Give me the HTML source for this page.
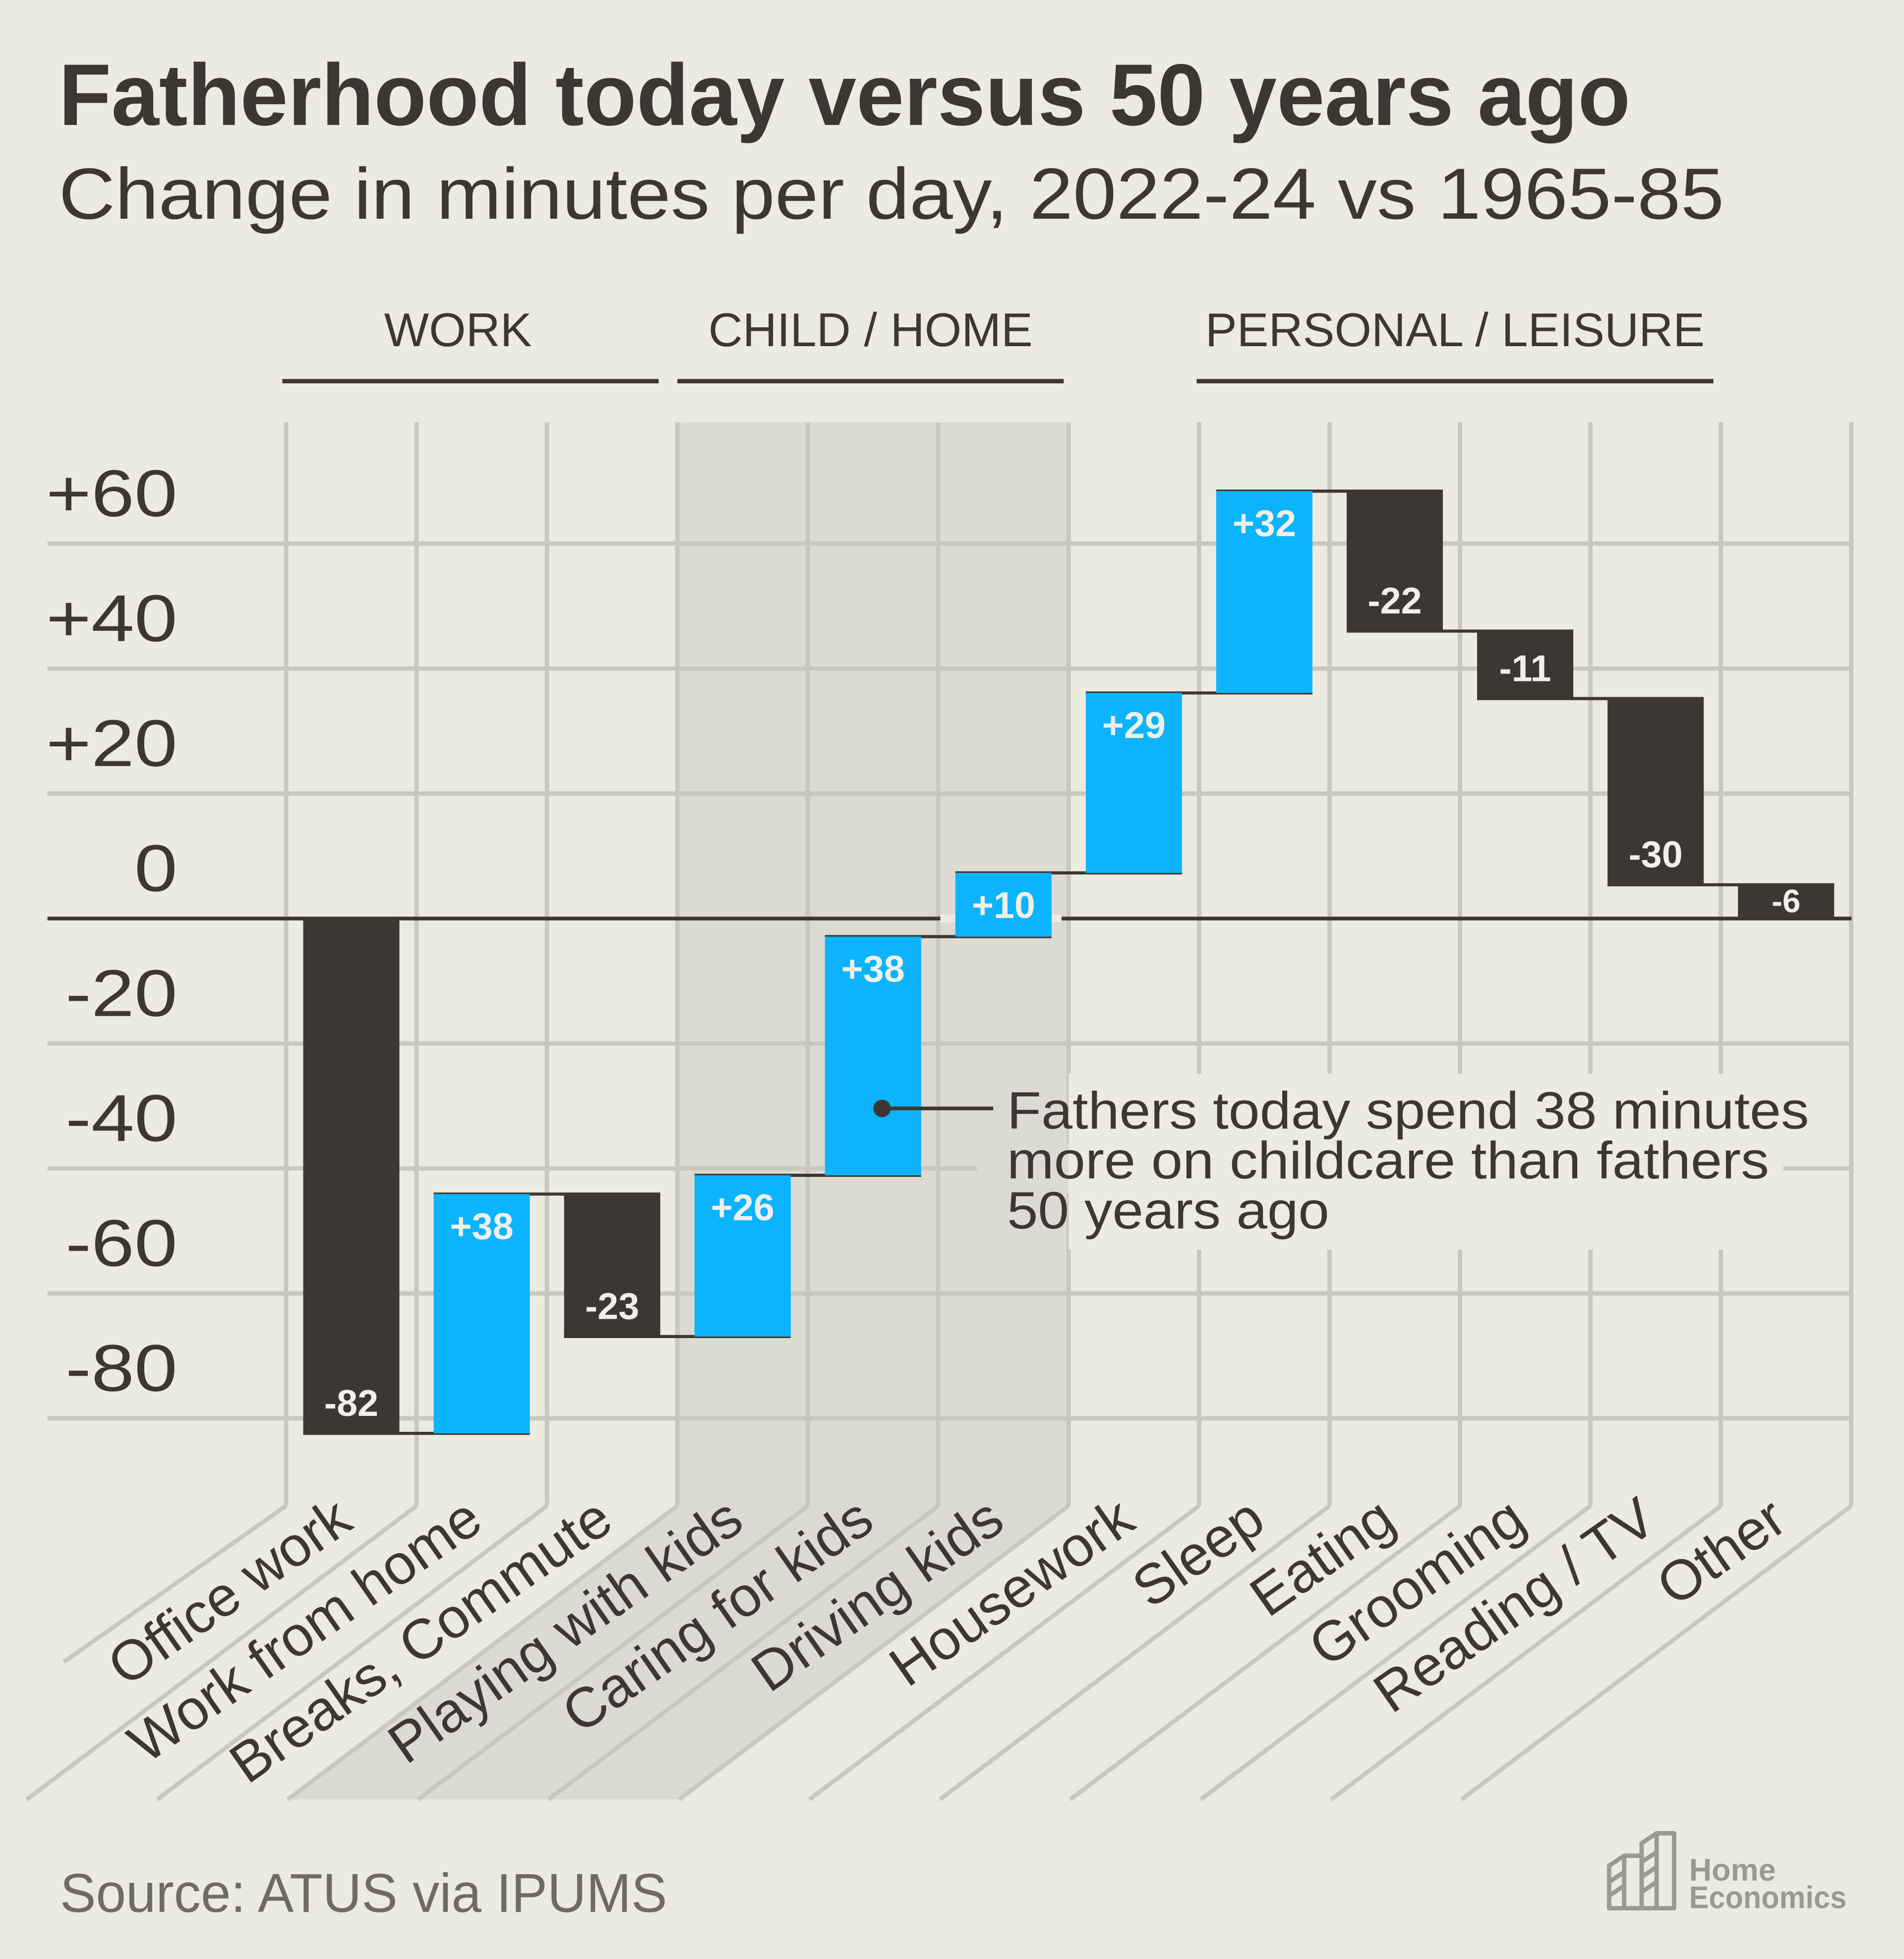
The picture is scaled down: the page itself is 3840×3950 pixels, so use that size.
<!DOCTYPE html>
<html><head><meta charset="utf-8"><style>
html,body{margin:0;padding:0;background:#ecebe0;}
svg{display:block;}
text{font-family:"Liberation Sans",sans-serif;}
</style></head><body>
<svg id="chart" width="3840" height="3950" viewBox="0 0 1524 1567.6" xmlns="http://www.w3.org/2000/svg">
<rect x="0" y="0" width="1524" height="1568" fill="#ecebe0"/>
<text x="47" y="100" font-size="70" font-weight="bold" fill="#3d3733" textLength="1258" lengthAdjust="spacingAndGlyphs">Fatherhood today versus 50 years ago</text>
<text x="47" y="175" font-size="58" fill="#3d3733" textLength="1333" lengthAdjust="spacingAndGlyphs">Change in minutes per day, 2022-24 vs 1965-85</text>
<g id="sections"></g>
<g id="shade"></g>
<g id="grid"></g>
<g id="annbg"></g>
<g id="ylabels"></g>
<g id="bars"></g>
<g id="xlabels"></g>
<g>
<circle cx="706" cy="887" r="7" fill="#3d3733"/>
<line x1="706" y1="887" x2="795" y2="887" stroke="#3d3733" stroke-width="3"/>
<text font-size="42" fill="#3d3733">
<tspan x="806" y="903" textLength="642" lengthAdjust="spacingAndGlyphs">Fathers today spend 38 minutes</tspan>
<tspan x="806" y="943" textLength="610" lengthAdjust="spacingAndGlyphs">more on childcare than fathers</tspan>
<tspan x="806" y="983" textLength="258" lengthAdjust="spacingAndGlyphs">50 years ago</tspan>
</text>
</g>
<text x="48" y="1530" font-size="44" fill="#6e6b66" textLength="486" lengthAdjust="spacingAndGlyphs">Source: ATUS via IPUMS</text>
<g fill="none" stroke="#9a9992" stroke-width="3.5" stroke-linejoin="round">
<path d="M1288,1527 L1288,1493 L1300,1485 L1314,1485 L1314,1475 L1326,1467 L1340,1467 L1340,1527 Z"/>
<line x1="1300" y1="1485" x2="1300" y2="1527"/><line x1="1314" y1="1485" x2="1314" y2="1527"/><line x1="1326" y1="1467" x2="1326" y2="1527"/>
<line x1="1288" y1="1506" x2="1300" y2="1498"/><line x1="1288" y1="1517" x2="1300" y2="1509"/>
<line x1="1314" y1="1490" x2="1326" y2="1482"/><line x1="1314" y1="1502" x2="1326" y2="1494"/><line x1="1314" y1="1514" x2="1326" y2="1506"/>
</g>
<text x="1352" y="1505" font-size="25" font-weight="bold" fill="#9a9992">Home</text>
<text x="1352" y="1527" font-size="25" font-weight="bold" fill="#9a9992" textLength="126" lengthAdjust="spacingAndGlyphs">Economics</text>
</svg>
<script>
var categories = ["Office work","Work from home","Breaks, Commute","Playing with kids","Caring for kids","Driving kids","Housework","Sleep","Eating","Grooming","Reading / TV","Other"];
var values = [-82.4, 38.3, -22.8, 25.8, 38.2, 10.2, 28.8, 32.3, -22.4, -10.8, -29.8, -5.4];
var valueLabels = ["-82","+38","-23","+26","+38","+10","+29","+32","-22","-11","-30","-6"];
var yTicks = [60, 40, 20, 0, -20, -40, -60, -80];
var yTickLabels = ["+60","+40","+20","0","-20","-40","-60","-80"];
var sections = ["WORK","CHILD / HOME","PERSONAL / LEISURE"];
var sectionStart = [0, 3, 7];
var sectionEnd = [3, 6, 11];

var NS = "http://www.w3.org/2000/svg";
var X0 = 229, COLW = 104.4, ZEROY = 735, PPU = 5, GTOP = 338, GBOT = 1205, DBOT = 1440, DDX = 312;
var GRID = "#c9c8bc", DARK = "#3d3733", BLUE = "#0bb4fc", BG = "#ecebe0", SHADE = "#dcdbd3";
function xEdge(i){ return X0 + i * COLW; }
function xCenter(i){ return X0 + (i + 0.5) * COLW; }
function yScale(v){ return ZEROY - v * PPU; }
function mk(tag, attrs, parent){
  var e = document.createElementNS(NS, tag);
  for (var k in attrs) e.setAttribute(k, attrs[k]);
  parent.appendChild(e);
  return e;
}
var n = categories.length;

// sections
var gs = document.getElementById("sections");
sections.forEach(function(s, k){
  var x1 = xEdge(sectionStart[k]) - (k === 0 ? 3 : (k === 2 ? 2 : 0));
  var x2 = xEdge(sectionEnd[k]) - (k === 0 ? 15 : (k === 1 ? 4 : 6));
  var cx = (x1 + x2) / 2 + (k === 0 ? -10 : 0);
  var t = mk("text", {x: cx, y: 277, "font-size": 38, fill: DARK, "text-anchor": "middle"}, gs);
  
  
  t.textContent = s;
  var l = mk("line", {x1: x1, x2: x2, y1: 305, y2: 305, stroke: DARK, "stroke-width": 3.5}, gs);
  
  
});

// shade
var sh = document.getElementById("shade");
var sx1 = xEdge(3), sx2 = xEdge(6);
var sp = mk("polygon", {points: sx1+","+GTOP+" "+sx2+","+GTOP+" "+sx2+","+GBOT+" "+(sx2-DDX)+","+DBOT+" "+(sx1-DDX)+","+DBOT+" "+sx1+","+GBOT, fill: SHADE}, sh);



// grid
var g = document.getElementById("grid");
[60,40,20,-20,-40,-60,-80].forEach(function(v){
  var l = mk("line", {x1: 38, x2: 1482, y1: yScale(v), y2: yScale(v), stroke: GRID, "stroke-width": 3.5}, g);
  
  
});
for (var i = 0; i <= n; i++) {
  var x = xEdge(i);
  var l = mk("line", {x1: x, x2: x, y1: GTOP, y2: GBOT, stroke: GRID, "stroke-width": 3.5}, g);
  
  
  var bx = x - DDX, by = DBOT;
  if (i === 0) { bx = 51; by = 1330; }
  var d = mk("line", {x1: x, y1: GBOT, x2: bx, y2: by, stroke: GRID, "stroke-width": 3.5}, g);
  
  
}
var zl = mk("line", {x1: 38, x2: 1482, y1: ZEROY, y2: ZEROY, stroke: DARK, "stroke-width": 3}, g);



// annotation background
var ab = document.getElementById("annbg");
var r1 = mk("rect", {x: xEdge(6), y: 859, width: 572, height: 141, fill: BG}, ab);


var r2 = mk("rect", {x: 782, y: 915, width: xEdge(6) - 782, height: 40, fill: SHADE}, ab);



// y labels
var yl = document.getElementById("ylabels");
yTicks.forEach(function(v, k){
  var t = mk("text", {x: 142, y: yScale(v) - 22, "font-size": 53, fill: DARK, "text-anchor": "end"}, yl);
  
  
  t.textContent = yTickLabels[k];
  var w = t.getComputedTextLength();
  if (w > 0) { t.setAttribute("textLength", w * 1.17); t.setAttribute("lengthAdjust", "spacingAndGlyphs"); }
});

// bars
var gb = document.getElementById("bars");
var cum = 0, BW = 77;
var starts = [], ends = [];
for (var i = 0; i < n; i++) { starts.push(cum); cum += values[i]; ends.push(cum); }
for (var i = 0; i < n - 1; i++) {
  var cy = yScale(ends[i]);
  var c = mk("line", {x1: xCenter(i) - BW/2, x2: xCenter(i+1) + BW/2, y1: cy, y2: cy, stroke: DARK, "stroke-width": 2.5}, gb);
  
  
}
for (var i = 0; i < n; i++) {
  var lo = Math.min(starts[i], ends[i]), hi = Math.max(starts[i], ends[i]);
  var bx = xCenter(i) - BW/2;
  if (lo < -0.5 && hi > 0.5) {
    var halo = mk("rect", {x: bx - 12, y: ZEROY - 3, width: BW + 20, height: 6, fill: BG}, gb);
    
    
  }
  var hpx = (hi - lo) * PPU;
  var r = mk("rect", {x: bx, y: yScale(hi), width: BW, height: hpx, fill: values[i] >= 0 ? BLUE : DARK}, gb);
  
  
  var small = hpx < 40;
  var ty = values[i] >= 0 ? yScale(hi) + 36 : yScale(lo) - (small ? 5 : 14);
  var t = mk("text", {x: xCenter(i), y: ty, "font-size": small ? 26 : 30, "font-weight": "bold", fill: "#f0efe8", "text-anchor": "middle"}, gb);
  
  
  t.textContent = valueLabels[i];
}

// x labels
var xl = document.getElementById("xlabels");
categories.forEach(function(c, i){
  var ax = xCenter(i) + 3, ay = 1222;
  var t = mk("text", {x: ax, y: ay, "font-size": 45, fill: DARK, "text-anchor": "end", transform: "rotate(-35 " + ax + " " + ay + ")"}, xl);
  
  
  t.textContent = c;
});
</script>
</body></html>
